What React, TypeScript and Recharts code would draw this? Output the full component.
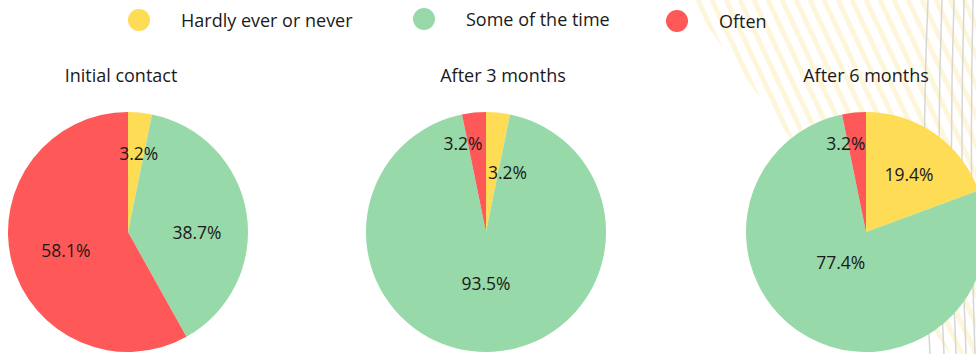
import { PieChart, Pie, Cell } from "recharts";

const categories = ["Hardly ever or never", "Some of the time", "Often"];
const panelTitles = ["Initial contact", "After 3 months", "After 6 months"];
const initialContact = [3.2, 38.7, 58.1];
const after3Months = [3.2, 93.5, 3.2];
const after6Months = [19.4, 77.4, 3.2];

const COLORS = ["#FEDC56", "#98D9A9", "#FE5858"];
const FONT = "'Open Sans', sans-serif";

// layout per panel: label radius fraction and angle nudge (deg) per slice, to mimic Excel "best fit"
const panels = [
  { values: initialContact, cx: 128, titleX: 121, labelR: [0.665, 0.575, 0.54], nudge: [2, 8.6, -2] },
  { values: after3Months, cx: 486, titleX: 503, labelR: [0.53, 0.425, 0.77], nudge: [14, 0, -8.7] },
  { values: after6Months, cx: 866, titleX: 866, labelR: [0.6, 0.33, 0.76], nudge: [1.7, 10.6, -7] },
];
const CY = 232;
const R = 120;

const RAD = Math.PI / 180;

function makeLabel(fracs: number[], nudge: number[]) {
  return (p: any) => {
    const r = p.outerRadius * fracs[p.index];
    const a = (p.midAngle - nudge[p.index]) * RAD;
    const x = p.cx + r * Math.cos(-a);
    const y = p.cy + r * Math.sin(-a);
    return (
      <text x={x} y={y} textAnchor="middle" dominantBaseline="central" fill="#1a1a1a" fontSize={17.5} fontFamily={FONT}>
        {p.value.toFixed(1)}%
      </text>
    );
  };
}

function Backdrop() {
  const stripes = [];
  for (let i = 0; i < 30; i++) {
    const x0 = 600 + i * 14;
    stripes.push(<line key={i} x1={x0} y1={0} x2={x0 + 166} y2={354} stroke="#FDF6DA" strokeWidth={5} />);
  }
  return (
    <svg width={976} height={354} style={{ position: "absolute", left: 0, top: 0 }}>
      <defs>
        <clipPath id="band">
          <polygon points="688,0 976,0 976,354 950,354" />
        </clipPath>
      </defs>
      <g clipPath="url(#band)">{stripes}</g>
      {[928, 942, 954, 964, 973].map((x, i) => (
        <path key={x} d={`M${x} 0 Q${x - 8 + i} 180 ${x + 2} 354`} stroke="#D6D6D6" strokeWidth={1.5} fill="none" />
      ))}
    </svg>
  );
}

export default function App() {
  return (
    <div style={{ position: "fixed", left: 0, top: 0, width: 976, height: 354, overflow: "hidden", background: "#fff", fontFamily: FONT }}>
      <Backdrop />
      {categories.map((c, i) => {
        const lx = [139, 424, 677][i];
        const ly = [20, 19, 21][i];
        return (
          <div key={c}>
            <div style={{ position: "absolute", left: lx - 11, top: ly - 11, width: 22, height: 22, borderRadius: 11, background: COLORS[i] }} />
            <div style={{ position: "absolute", left: lx + 42, top: ly - 13, fontSize: 18, lineHeight: "26px", color: "#1a1a1a", whiteSpace: "nowrap" }}>{c}</div>
          </div>
        );
      })}
      {panels.map((p, i) => (
        <div key={i} style={{ position: "absolute", left: p.titleX - 100, top: 62, width: 200, textAlign: "center", fontSize: 18, lineHeight: "26px", color: "#1a1a1a" }}>
          {panelTitles[i]}
        </div>
      ))}
      <div style={{ position: "absolute", left: 0, top: 0 }}>
        <PieChart width={990} height={354} margin={{ top: 0, right: 0, bottom: 0, left: 0 }} style={{ overflow: "visible" }}>
          {panels.map((p, i) => (
            <Pie
              key={i}
              data={p.values.map((v, j) => ({ name: categories[j], value: v }))}
              dataKey="value"
              nameKey="name"
              cx={p.cx}
              cy={CY}
              outerRadius={R}
              startAngle={90}
              endAngle={-270}
              stroke="none"
              label={makeLabel(p.labelR, p.nudge)}
              labelLine={false}
              isAnimationActive={false}
            >
              {p.values.map((_, j) => (
                <Cell key={j} fill={COLORS[j]} />
              ))}
            </Pie>
          ))}
        </PieChart>
      </div>
    </div>
  );
}
